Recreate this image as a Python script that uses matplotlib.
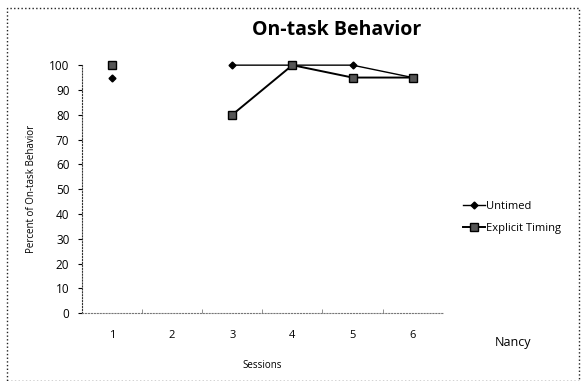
import matplotlib
matplotlib.use('Agg')
import matplotlib.pyplot as plt
import numpy as np
from matplotlib.patches import Rectangle

# session data (None = no session recorded)
sessions = [1, 2, 3, 4, 5, 6]
untimed = [95, None, 100, 100, 100, 95]
explicit_timing = [100, None, 80, 100, 95, 95]
y_ticks = [0, 10, 20, 30, 40, 50, 60, 70, 80, 90, 100]

plt.rcParams['font.family'] = ['Open Sans', 'DejaVu Sans']

fig = plt.figure(figsize=(5.81, 3.81), dpi=100)
ax = fig.add_axes([0.141, 0.178, 0.621, 0.651])

def to_arr(vals):
    return np.array([np.nan if v is None else v for v in vals], dtype=float)

ax.plot(sessions, to_arr(untimed), color='black', lw=1.0, marker='D',
        markersize=3.5, markerfacecolor='black', label='Untimed', clip_on=False)
ax.plot(sessions, to_arr(explicit_timing), color='black', lw=1.4, marker='s',
        markersize=6, markerfacecolor='#555555', markeredgecolor='black',
        label='Explicit Timing', clip_on=False)

ax.set_xlim(0.5, 6.5)
ax.set_ylim(0, 100)
ax.set_yticks(y_ticks)
ax.set_xticks(sessions)
ax.set_xticks(np.arange(1.5, 6.5, 1), minor=True)
ax.tick_params(axis='x', which='major', length=0, pad=12, labelsize=8)
ax.tick_params(axis='x', which='minor', length=3, direction='in', color='gray')
ax.tick_params(axis='y', length=3, labelsize=8.5, pad=6)

for side in ['top', 'right']:
    ax.spines[side].set_visible(False)
ax.spines['left'].set_linestyle(':')
ax.spines['left'].set_color('#333333')
ax.spines['bottom'].set_linestyle(':')
ax.spines['bottom'].set_color('#777777')

ax.set_title('On-task Behavior', fontsize=14, fontweight='bold', pad=22, x=0.706)
ax.set_ylabel('Percent of On-task Behavior', fontsize=7, labelpad=9)
ax.set_xlabel('Sessions', fontsize=7, labelpad=14)

ax.legend(loc='center left', bbox_to_anchor=(1.055, 0.387), frameon=False,
          fontsize=8, handlelength=2.0, handletextpad=0.1, labelspacing=1.0,
          borderaxespad=0, borderpad=0)

fig.text(0.883, 0.10, 'Nancy', fontsize=9, ha='center', va='center')

# outer dotted chart border
fig.patches.append(Rectangle((0.012, 0.0), 0.985, 0.978, transform=fig.transFigure,
                             fill=False, linestyle=':', edgecolor='#222222', lw=1.0))

fig.savefig('out.png', dpi=100)
